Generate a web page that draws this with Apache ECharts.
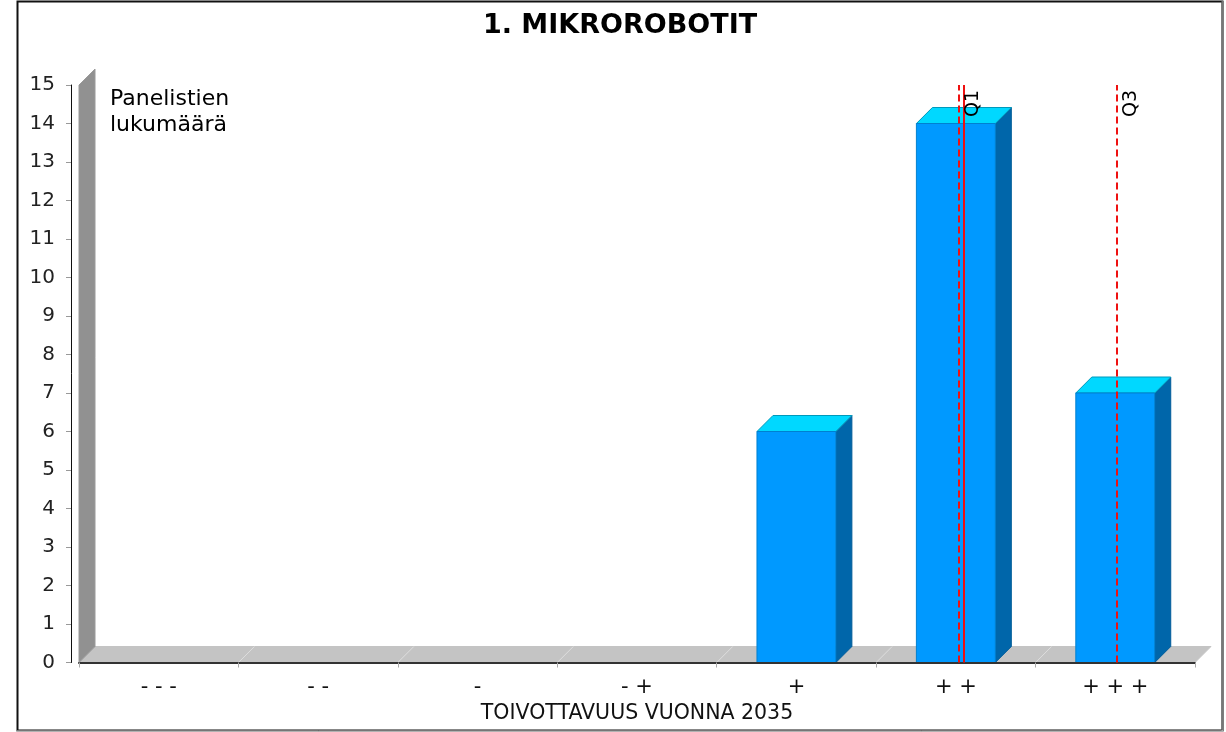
<!DOCTYPE html>
<html>
<head>
<meta charset="utf-8">
<title>1. MIKROROBOTIT</title>
<script src="https://cdn.jsdelivr.net/npm/echarts@6/dist/echarts.min.js"></script>
<style>
    html, body { margin: 0; padding: 0; background: #fff; }
    #chart { width: 1226px; height: 732px; }
</style>
</head>
<body>
<div id="chart"></div>
<script type="text/javascript">
    // data
    var categories = ['- - -', '- -', '-', '- +', '+', '+ +', '+ + +'];
    var counts = [0, 0, 0, 0, 6, 14, 7];
    var yMax = 15;
    // quartile markers, on the 1..7 scale of the categories
    var markerNames = ['Q1', '', 'Q3'];
    var markerValues = [6.02, 6.05, 7.01];
    var markerDashed = [true, false, true];

    var DEPTH = 16;

    var myChart = echarts.init(document.getElementById('chart'), null, {renderer: 'canvas'});

    // wall + floor of the 3d plot
    function renderBackdrop(params, api) {
        var bandW = api.size([1, 0])[0];
        var x0 = api.coord([0, 0])[0] - bandW / 2;
        var x1 = api.coord([categories.length - 1, 0])[0] + bandW / 2;
        var y0 = api.coord([0, 0])[1];
        var yTop = api.coord([0, yMax])[1];
        var d = DEPTH;
        var children = [
            {
                type: 'polygon',
                shape: {points: [[x0, y0], [x1, y0], [x1 + d, y0 - d], [x0 + d, y0 - d]]},
                style: {fill: '#c4c4c4', stroke: '#c4c4c4', lineWidth: 1}
            },
            {
                type: 'polygon',
                shape: {points: [[x0, y0], [x0, yTop], [x0 + d, yTop - d], [x0 + d, y0 - d]]},
                style: {fill: '#919191', stroke: '#9a9a9a', lineWidth: 1}
            }
        ];
        for (var i = 1; i < categories.length; i++) {
            var xb = x0 + i * bandW;
            children.push({
                type: 'line',
                shape: {x1: xb, y1: y0, x2: xb + d, y2: y0 - d},
                style: {stroke: '#dedede', lineWidth: 1}
            });
        }
        return {type: 'group', children: children};
    }

    function renderBar(params, api) {
        var v = api.value(1);
        if (!v) {
            return {type: 'group', children: []};
        }
        var bandW = api.size([1, 0])[0];
        var w = bandW * 0.495;
        var top = api.coord([api.value(0), v]);
        var base = api.coord([api.value(0), 0]);
        var x = top[0] - w / 2;
        var y = top[1];
        var y0 = base[1];
        var d = DEPTH;
        return {
            type: 'group',
            children: [
                {
                    type: 'polygon',
                    shape: {points: [[x + w, y], [x + w + d, y - d], [x + w + d, y0 - d], [x + w, y0]]},
                    style: {fill: '#0066aa', stroke: '#005c99', lineWidth: 1}
                },
                {
                    type: 'polygon',
                    shape: {points: [[x, y], [x + d, y - d], [x + w + d, y - d], [x + w, y]]},
                    style: {fill: '#00d8ff', stroke: '#0099bb', lineWidth: 1}
                },
                {
                    type: 'rect',
                    shape: {x: x, y: y, width: w, height: y0 - y},
                    style: {fill: '#0099ff', stroke: '#0080d0', lineWidth: 1}
                }
            ]
        };
    }

    var barData = counts.map(function (c, i) { return [i, c]; });

    var markLines = markerValues.map(function (v, i) {
        return {
            xAxis: v,
            label: {formatter: markerNames[i], show: markerNames[i] !== ''},
            lineStyle: {type: markerDashed[i] ? [7, 4] : 'solid'}
        };
    });

    var option = {
        animation: false,
        title: [
            {
                text: '1. MIKROROBOTIT',
                left: 620,
                top: 12,
                padding: 0,
                textAlign: 'center',
                textStyle: {fontFamily: 'DejaVu Sans', fontSize: 27, fontWeight: 'bold', color: '#000'}
            },
            {
                text: 'Panelistien\nlukumäärä',
                left: 110,
                top: 86,
                padding: 0,
                textStyle: {fontFamily: 'DejaVu Sans', fontSize: 22, fontWeight: 'normal', color: '#000', lineHeight: 26}
            }
        ],
        graphic: [
            {
                type: 'rect',
                shape: {x: 17.5, y: 1.5, width: 1205, height: 729},
                style: {fill: 'none', stroke: '#111', lineWidth: 2},
                silent: true
            },
            {
                type: 'line',
                shape: {x1: 1222.5, y1: 1, x2: 1222.5, y2: 731},
                style: {stroke: '#777', lineWidth: 2},
                silent: true
            },
            {
                type: 'line',
                shape: {x1: 17, y1: 731, x2: 1223, y2: 731},
                style: {stroke: '#ddd', lineWidth: 1},
                silent: true
            }
        ],
        grid: {left: 79, right: 31, top: 85, bottom: 69.5, containLabel: false},
        xAxis: [
            {
                type: 'category',
                data: categories,
                boundaryGap: true,
                axisLine: {show: true, lineStyle: {color: '#333', width: 2}},
                axisTick: {show: true, length: 5, lineStyle: {color: '#aaa'}},
                axisLabel: {margin: 15, fontFamily: 'DejaVu Sans', fontSize: 21, color: '#111'},
                name: 'TOIVOTTAVUUS VUONNA 2035',
                nameLocation: 'middle',
                nameGap: 38,
                nameTextStyle: {fontFamily: 'DejaVu Sans', fontSize: 20.5, color: '#111'},
                splitLine: {show: false},
                z: 3
            },
            {
                type: 'value',
                min: 0.5,
                max: 7.5,
                show: false,
                position: 'top'
            }
        ],
        yAxis: {
            type: 'value',
            min: 0,
            max: yMax,
            interval: 1,
            offset: 8,
            axisLine: {show: true, lineStyle: {color: '#111', width: 1}},
            axisTick: {show: true, length: 5, lineStyle: {color: '#999'}},
            axisLabel: {margin: 16, fontFamily: 'DejaVu Sans', fontSize: 20, color: '#222'},
            splitLine: {show: false}
        },
        series: [
            {
                name: 'backdrop',
                type: 'custom',
                renderItem: renderBackdrop,
                data: [[0, 0]],
                clip: false,
                silent: true,
                z: 1
            },
            {
                name: 'Panelistien lukumäärä',
                type: 'custom',
                renderItem: renderBar,
                data: barData,
                clip: false,
                z: 2
            },
            {
                name: 'kvartiilit',
                type: 'line',
                xAxisIndex: 1,
                data: [],
                z: 5,
                markLine: {
                    silent: true,
                    symbol: ['none', 'none'],
                    lineStyle: {color: '#ee1111', width: 2},
                    label: {
                        position: 'insideEndBottom',
                        distance: 5,
                        fontFamily: 'DejaVu Sans',
                        fontSize: 19,
                        color: '#000'
                    },
                    data: markLines
                }
            }
        ]
    };

    myChart.setOption(option);
</script>
</body>
</html>
